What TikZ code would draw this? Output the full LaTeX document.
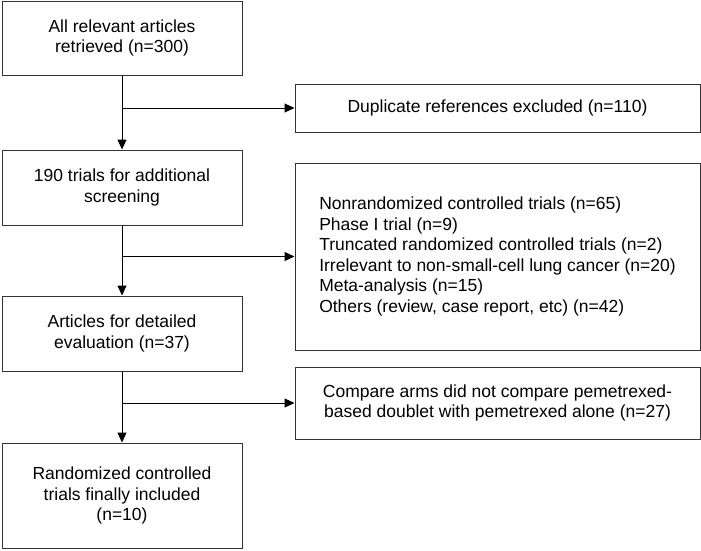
\documentclass[tikz,border=0pt]{standalone}
\usepackage{fontspec}
\setmainfont{Liberation Sans}
\usetikzlibrary{arrows.meta}

\tikzset{
  stage/.style={draw=black!80, line width=1pt, inner sep=0pt, align=center,
    minimum width=240pt, font=\fontsize{17.5}{20.5}\selectfont},
  drop/.style={stage, minimum width=405pt},
  flow/.style={draw=black, line width=1pt, -{Triangle[length=10pt,width=9pt]}},
}

\begin{document}
\begin{tikzpicture}[x=1pt,y=-1pt]
		\useasboundingbox (0,0) rectangle (701,550);
		% main column
		\node[stage, minimum height=74pt] (all) at (122,38) {All relevant articles\\retrieved (n=300)};
		\node[stage, minimum height=75pt] (screen) at (122,187.5) {190 trials for additional\\screening};
		\node[stage, minimum height=75pt] (detail) at (122,333.5) {Articles for detailed\\evaluation (n=37)};
		\node[stage, minimum height=105pt] (final) at (122,495.5) {Randomized controlled\\trials finally included\\(n=10)};
		% excluded records
		\node[drop, minimum height=48pt] (dup) at (497.5,108) {Duplicate references excluded (n=110)};
		\node[drop, minimum height=187pt, align=left] (other) at (497.5,256.5) {Nonrandomized controlled trials (n=65)\\Phase I trial (n=9)\\Truncated randomized controlled trials (n=2)\\Irrelevant to non-small-cell lung cancer (n=20)\\Meta-analysis (n=15)\\Others (review, case report, etc) (n=42)};
		\node[drop, minimum height=72pt] (arms) at (497.5,403) {Compare arms did not compare pemetrexed-\\based doublet with pemetrexed alone (n=27)};
		% connectors
		\draw[flow] (all) -- (screen);
		\draw[flow] (screen) -- (detail);
		\draw[flow] (detail) -- (final);
		\draw[flow] (all.south |- dup.west) -- (dup.west);
		\draw[flow] (screen.south |- other.west) -- (other.west);
		\draw[flow] (detail.south |- arms.west) -- (arms.west);
	\end{tikzpicture}
\end{document}
